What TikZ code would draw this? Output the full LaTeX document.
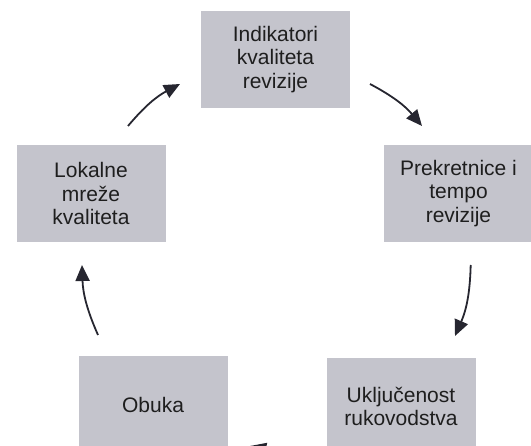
\documentclass[tikz,border=0pt]{standalone}
\usepackage{fontspec}
\setmainfont{Liberation Sans}
\usetikzlibrary{arrows.meta}
\definecolor{boxgray}{HTML}{C4C4CC}
\definecolor{txt}{HTML}{1E1E1E}
\definecolor{arrowc}{HTML}{262630}
\begin{document}
\begin{tikzpicture}[x=1pt,y=1pt,
  box/.style={fill=boxgray, minimum width=149pt, minimum height=97pt, inner sep=0pt,
    align=center, text=txt, font=\fontsize{21}{23.3}\selectfont},
  cyc/.style={draw=arrowc, line width=1.8pt, -{Triangle[length=16pt,width=14pt]}, bend left=11}]
\useasboundingbox (0,0) rectangle (531,-446);
\clip (0,0) rectangle (531,-446);
\node[box] (ind) at (275.5,-59.5) {Indikatori\\kvaliteta\\revizije};
\node[box] (pre) at (458.5,-193.5) {Prekretnice i\\tempo\\revizije};
\node[box] (ukl) at (401,-406.5) {Uključenost\\rukovodstva};
\node[box] (obu) at (153,-404.5) {Obuka};
\node[box] (lok) at (91,-193.5) {Lokalne\\mreže\\kvaliteta};
\coordinate (a1s) at (370,-84);    \coordinate (a1e) at (422,-126);
\coordinate (a2s) at (470.7,-265); \coordinate (a2e) at (455,-336);
\coordinate (a3s) at (302,-448.5); \coordinate (a3e) at (250,-446);
\coordinate (a4s) at (98,-335);    \coordinate (a4e) at (82,-265);
\coordinate (a5s) at (128,-126);   \coordinate (a5e) at (180,-84);
\draw[cyc] (a1s) to (a1e);
\draw[cyc] (a2s) to (a2e);
\draw[cyc] (a3s) to (a3e);
\draw[cyc] (a4s) to (a4e);
\draw[cyc] (a5s) to (a5e);
\end{tikzpicture}
\end{document}
